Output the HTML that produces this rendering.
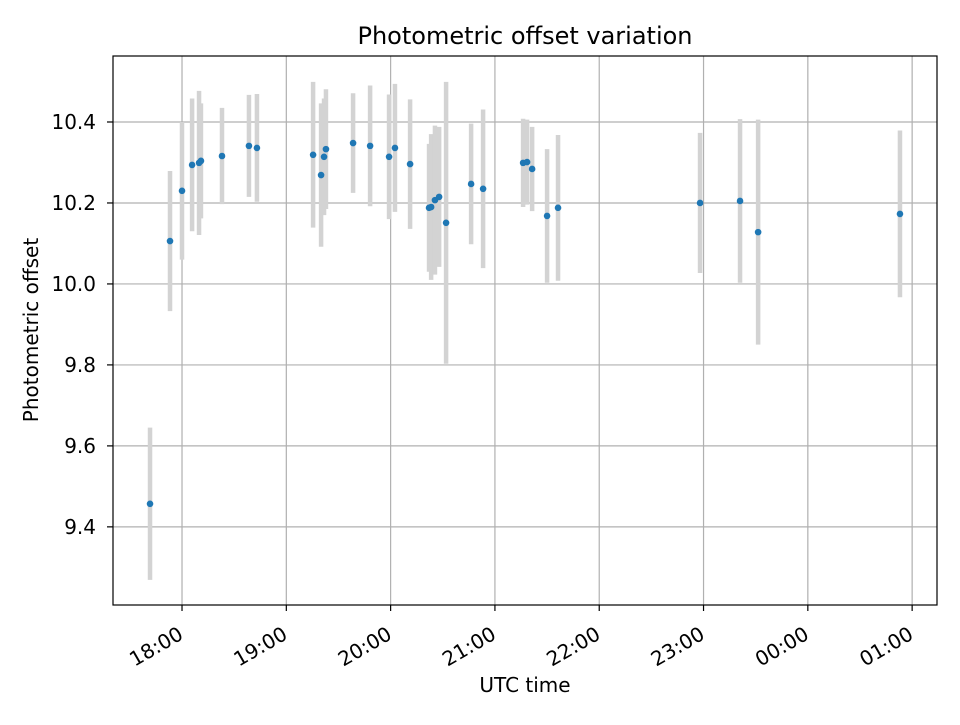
<!DOCTYPE html>
<html><head><meta charset="utf-8"><style>
body{margin:0;background:#fff;}
svg{font-family:"DejaVu Sans","Liberation Sans",sans-serif;}
</style></head><body>
<svg id="chart" width="960" height="720" viewBox="0 0 960 720">
<rect width="960" height="720" fill="#fff"/>
<text x="525" y="44" text-anchor="middle" font-size="24">Photometric offset variation</text>
<g id="grid"></g><g id="bars"></g><g id="pts"></g><g id="axes"></g>
<rect x="113" y="56" width="824" height="549" fill="none" stroke="#000" stroke-width="1.2"/>
<text x="525" y="692" text-anchor="middle" font-size="20">UTC time</text>
<text transform="translate(38,330) rotate(-90)" text-anchor="middle" font-size="20">Photometric offset</text>
</svg>
<script>
// minutes since 18:00 UTC
const times = [-18.4,-6.9,0,5.8,9.8,10.9,23,38.5,43.1,75.4,80,81.7,82.8,98.4,108.2,119.1,122.5,131.2,142.1,143.3,145.5,147.9,151.9,166.3,173.2,196.2,198.5,201.4,210,216.3,298,321,331.4,413];
const offsets = [9.457,10.106,10.230,10.294,10.299,10.304,10.316,10.341,10.336,10.319,10.269,10.314,10.333,10.348,10.341,10.314,10.336,10.296,10.188,10.190,10.207,10.215,10.151,10.247,10.235,10.299,10.301,10.284,10.168,10.188,10.200,10.205,10.128,10.173];
const errors = [0.188,0.173,0.170,0.164,0.178,0.142,0.119,0.126,0.133,0.180,0.177,0.144,0.148,0.123,0.149,0.154,0.158,0.160,0.158,0.18,0.184,0.173,0.348,0.149,0.196,0.109,0.105,0.104,0.165,0.180,0.173,0.202,0.278,0.206];
const xTickMinutes = [0,60,120,180,240,300,360,420];
const xTickLabels = ["18:00","19:00","20:00","21:00","22:00","23:00","00:00","01:00"];
const yTicks = [9.4,9.6,9.8,10.0,10.2,10.4];

const X0=113,X1=937,Y0=56,Y1=605;
const xMin=-39.7,xMax=434.3,yMin=9.207,yMax=10.563;
const sx=m=>X0+(m-xMin)/(xMax-xMin)*(X1-X0);
const sy=v=>Y1-(v-yMin)/(yMax-yMin)*(Y1-Y0);
const NS="http://www.w3.org/2000/svg";
function mk(tag,attrs,parent){const e=document.createElementNS(NS,tag);for(const k in attrs)e.setAttribute(k,attrs[k]);document.getElementById(parent).appendChild(e);return e;}

xTickMinutes.forEach((m,i)=>{
  const x=sx(m);
  const g=mk('line',{x1:x,x2:x,y1:Y0,y2:Y1,stroke:'#b0b0b0','stroke-width':1.2},'grid');
  
  
  const t=mk('line',{x1:x,x2:x,y1:Y1,y2:Y1+6,stroke:'#000','stroke-width':1.2},'axes');
  
  
  const ax=x+2.5, ay=638;
  const l=mk('text',{x:ax,y:ay,'font-size':20,'text-anchor':'end',transform:`rotate(-30 ${ax} ${ay})`},'axes');
  l.textContent=xTickLabels[i];
  
  
});
yTicks.forEach(v=>{
  const y=sy(v);
  const g=mk('line',{x1:X0,x2:X1,y1:y,y2:y,stroke:'#b0b0b0','stroke-width':1.2},'grid');
  
  
  const t=mk('line',{x1:X0-6,x2:X0,y1:y,y2:y,stroke:'#000','stroke-width':1.2},'axes');
  
  
  const l=mk('text',{x:X0-17,y:y+7,'font-size':20,'text-anchor':'end'},'axes');
  l.textContent=v.toFixed(1);
  
  
});
times.forEach((m,i)=>{
  const x=sx(m);
  const b=mk('line',{x1:x,x2:x,y1:sy(offsets[i]+errors[i]),y2:sy(offsets[i]-errors[i]),stroke:'#d3d3d3','stroke-width':4.5},'bars');
  
  
  const p=mk('circle',{cx:x,cy:sy(offsets[i]),r:3.3,fill:'#1f77b4'},'pts');
  
  
});
</script>
</body></html>
